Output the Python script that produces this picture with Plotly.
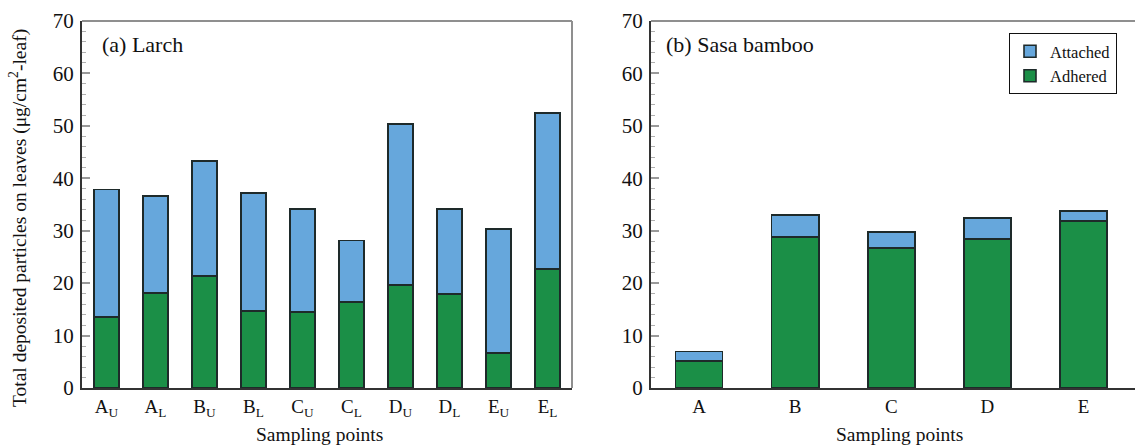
import plotly.graph_objects as go

# Larch: upper (U) and lower (L) crown leaves at sampling points A–E
larch_labels = ["A<sub>U</sub>", "A<sub>L</sub>", "B<sub>U</sub>", "B<sub>L</sub>", "C<sub>U</sub>",
                "C<sub>L</sub>", "D<sub>U</sub>", "D<sub>L</sub>", "E<sub>U</sub>", "E<sub>L</sub>"]
larch_adhered = [13.6, 18.1, 21.4, 14.7, 14.5, 16.4, 19.6, 17.9, 6.7, 22.7]
larch_attached = [24.3, 18.5, 21.9, 22.5, 19.6, 11.7, 30.7, 16.2, 23.6, 29.7]

# Sasa bamboo at sampling points A–E
sasa_labels = ["A", "B", "C", "D", "E"]
sasa_adhered = [5.1, 28.8, 26.7, 28.4, 31.9]
sasa_attached = [1.9, 4.2, 3.0, 4.0, 1.9]

W, H = 1135, 447
BLUE = "#66a7dc"
GREEN = "#1b8f47"
EDGE = "#1e2a2a"
FONT = "Times New Roman, Liberation Serif, DejaVu Serif, serif"

fig = go.Figure()

bar_line = dict(color=EDGE, width=1.6)
fig.add_trace(go.Bar(x=list(range(10)), y=larch_adhered, name="Adhered", marker=dict(color=GREEN, line=bar_line),
                     width=0.51, xaxis="x", yaxis="y", showlegend=False))
fig.add_trace(go.Bar(x=list(range(10)), y=larch_attached, name="Attached", marker=dict(color=BLUE, line=bar_line),
                     width=0.51, xaxis="x", yaxis="y", showlegend=False))
fig.add_trace(go.Bar(x=list(range(5)), y=sasa_adhered, name="Adhered", marker=dict(color=GREEN, line=bar_line),
                     width=0.49, xaxis="x2", yaxis="y2"))
fig.add_trace(go.Bar(x=list(range(5)), y=sasa_attached, name="Attached", marker=dict(color=BLUE, line=bar_line),
                     width=0.49, xaxis="x2", yaxis="y2"))

y_dom = [59 / H, 1 - 21 / H]
left_dom = [82 / W, 572 / W]
right_dom = [651 / W, 1.0]

yaxis_common = dict(
    range=[0, 70], dtick=10, showgrid=False, zeroline=False,
    showline=True, linecolor="#333333", linewidth=2,
    ticks="inside", ticklen=8, tickwidth=2, tickcolor="#9a9a9a",
    minor=dict(ticks="inside", ticklen=4, tickwidth=1, tickcolor="#b0b0b0", dtick=2),
    tickfont=dict(family=FONT, size=21, color="#111111"),
    ticklabelstandoff=2,
    domain=y_dom, automargin=False,
)
xaxis_common = dict(
    showgrid=False, zeroline=False, showline=True, linecolor="#333333", linewidth=2,
    ticks="", tickfont=dict(family=FONT, size=19, color="#111111"), automargin=False,
)

fig.update_layout(
    width=W, height=H,
    margin=dict(l=0, r=0, t=0, b=0),
    paper_bgcolor="white", plot_bgcolor="white",
    barmode="stack", bargap=0.5,
    font=dict(family=FONT, color="#111111"),
    xaxis=dict(xaxis_common, domain=left_dom, range=[-0.5, 9.5], tickmode="array",
               tickvals=list(range(10)), ticktext=larch_labels, anchor="y"),
    yaxis=dict(yaxis_common, anchor="x"),
    xaxis2=dict(xaxis_common, domain=right_dom, range=[-0.5, 4.536], tickmode="array",
                tickvals=list(range(5)), ticktext=sasa_labels, anchor="y2"),
    yaxis2=dict(yaxis_common, anchor="x2"),
    legend=dict(x=1009 / W, y=1 - 33 / H, xanchor="left", yanchor="top",
                bordercolor="#111111", borderwidth=1, bgcolor="white",
                traceorder="reversed", font=dict(family=FONT, size=16.5, color="#111111"),
                itemwidth=30, tracegroupgap=0),
    showlegend=True,
)

# Lighter frame on top/right edges of each panel
frame = dict(color="#8f8f8f", width=2)
fig.add_shape(type="line", xref="x domain", yref="y domain", x0=0, x1=1, y0=1, y1=1, line=frame)
fig.add_shape(type="line", xref="x domain", yref="y domain", x0=1, x1=1, y0=0, y1=1, line=frame)
fig.add_shape(type="line", xref="x2 domain", yref="y2 domain", x0=0, x1=1, y0=1, y1=1, line=frame)

# Panel labels
fig.add_annotation(text="(a) Larch", xref="paper", yref="paper", x=100 / W, y=1 - 45 / H,
                   xanchor="left", yanchor="middle", showarrow=False,
                   font=dict(family=FONT, size=22, color="#111111"))
fig.add_annotation(text="(b) Sasa bamboo", xref="paper", yref="paper", x=664 / W, y=1 - 45 / H,
                   xanchor="left", yanchor="middle", showarrow=False,
                   font=dict(family=FONT, size=22, color="#111111"))

# Axis titles
for cx in (319, 899):
    fig.add_annotation(text="Sampling points", xref="paper", yref="paper", x=cx / W, y=1 - 434 / H,
                       xanchor="center", yanchor="middle", showarrow=False,
                       font=dict(family=FONT, size=19.5, color="#111111"))
fig.add_annotation(text="Total deposited particles on leaves (μg/cm<sup>2</sup>-leaf)",
                   xref="paper", yref="paper", x=18 / W, y=1 - 218 / H,
                   xanchor="center", yanchor="middle", textangle=-90, showarrow=False,
                   font=dict(family=FONT, size=19.5, color="#111111"))

fig.write_html("out.html")
